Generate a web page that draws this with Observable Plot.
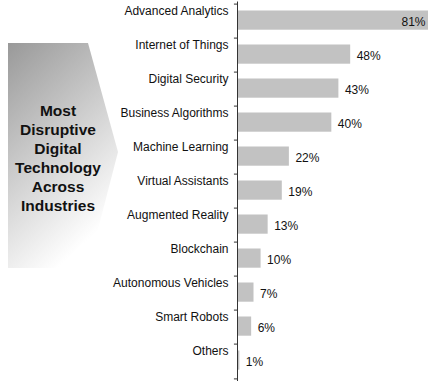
<!DOCTYPE html>
<html>
<head>
<meta charset="utf-8">
<script src="https://cdn.jsdelivr.net/npm/d3@7"></script>
<script src="https://cdn.jsdelivr.net/npm/@observablehq/plot@0.6"></script>
<style>
  html, body { margin: 0; padding: 0; background: #fff; }
  #chart { position: relative; width: 443px; height: 387px; }
</style>
</head>
<body>
<div id="chart"></div>
<script>
const categories = ["Advanced Analytics", "Internet of Things", "Digital Security", "Business Algorithms",
  "Machine Learning", "Virtual Assistants", "Augmented Reality", "Blockchain",
  "Autonomous Vehicles", "Smart Robots", "Others"];
const values = [81, 48, 43, 40, 22, 19, 13, 10, 7, 6, 1];
const titleLines = ["Most", "Disruptive", "Digital", "Technology", "Across", "Industries"];

const data = categories.map((c, i) => ({category: c, value: values[i]}));
const maxV = d3.max(values);
const font = "Arial, 'Liberation Sans', Helvetica, sans-serif";

const W = 443, H = 387;
const plot = Plot.plot({
  width: W,
  height: H,
  marginLeft: 237,
  marginRight: 15,
  marginTop: 1.5,
  marginBottom: 6,
  style: {fontFamily: font, fontSize: "12px", color: "#111", background: "transparent"},
  x: {domain: [0, maxV], axis: null},
  y: {domain: categories, padding: 0, axis: null},
  marks: [
    Plot.barX(data, {x: "value", y: "category", fill: "#c2c2c2", insetTop: 6.5, insetBottom: 8.3}),
    Plot.ruleX([0], {stroke: "#333", strokeWidth: 1}),
    Plot.ruleY(categories, {y: d => d, x1: -1.3, x2: 0, dy: -17.4, stroke: "#333"}),
    Plot.ruleY(categories.slice(-1), {y: d => d, x1: -1.3, x2: 0, dy: 17.4, stroke: "#333"}),
    Plot.text(data, {x: 0, y: "category", text: "category", textAnchor: "end", dx: -9, dy: -10.5, fill: "#111", fontSize: 12}),
    Plot.text(data.filter(d => d.value === maxV), {x: "value", y: "category", text: d => d.value + "%", textAnchor: "end", dx: -3, dy: 1, fill: "#111", fontSize: 12}),
    Plot.text(data.filter(d => d.value !== maxV), {x: "value", y: "category", text: d => d.value + "%", textAnchor: "start", dx: 6, dy: 0.5, fill: "#111", fontSize: 12})
  ]
});

const svg = d3.select(plot);
const defs = svg.insert("defs", ":first-child");
const grad = defs.append("linearGradient").attr("id", "arrowGrad")
  .attr("x1", 0).attr("y1", 0).attr("x2", 0.45).attr("y2", 1);
grad.append("stop").attr("offset", 0).attr("stop-color", "#999999");
grad.append("stop").attr("offset", 1).attr("stop-color", "#ffffff");

const g = svg.append("g").attr("class", "banner");
g.append("path")
  .attr("d", "M8,43 L88,43 L118,152 L88,268 L8,268 Z")
  .attr("fill", "url(#arrowGrad)");
g.selectAll("text").data(titleLines).join("text")
  .attr("x", 58)
  .attr("y", (d, i) => 110 + i * 19)
  .attr("dy", "0.36em")
  .attr("text-anchor", "middle")
  .attr("font-family", font)
  .attr("font-weight", "bold")
  .attr("font-size", 15.5)
  .attr("fill", "#111")
  .text(d => d);

document.getElementById("chart").appendChild(plot);
</script>
</body>
</html>
